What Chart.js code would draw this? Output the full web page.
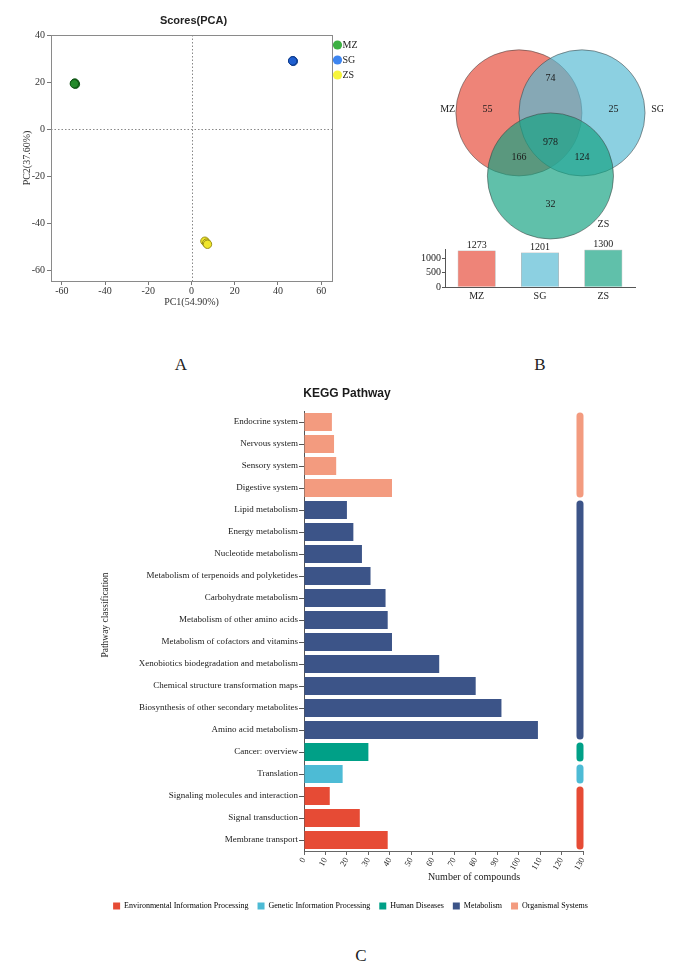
<!DOCTYPE html>
<html><head><meta charset="utf-8">
<script src="https://cdn.jsdelivr.net/npm/chart.js@4.4.1/dist/chart.umd.min.js"></script>
<style>
body{margin:0;background:#fff;}
#wrap{position:relative;width:681px;height:977px;overflow:hidden;background:#fff}
canvas{position:absolute}
.lab{position:absolute;font-family:"Liberation Serif","Times New Roman",serif;font-size:17px;color:#222;transform:translate(-50%,-50%)}
</style></head><body>
<div id="wrap">
<canvas id="pca" width="370" height="312" style="left:0;top:0"></canvas>
<canvas id="venn" width="321" height="245" style="left:360px;top:0"></canvas>
<canvas id="tot" width="321" height="80" style="left:360px;top:235px"></canvas>
<canvas id="kegg" width="681" height="540" style="left:0;top:380px"></canvas>
<div class="lab" style="left:181px;top:365px">A</div>
<div class="lab" style="left:540px;top:365px">B</div>
<div class="lab" style="left:361px;top:956px">C</div>
</div>
<script>
// ---------------- DATA ----------------
// PCA scores (3 replicates per group)
const pcaGroups = ['MZ', 'SG', 'ZS'];
const mzPC1 = [-54.0, -53.7, -54.2];
const mzPC2 = [19.6, 19.1, 19.3];
const sgPC1 = [46.9, 47.1, 46.8];
const sgPC2 = [29.1, 28.8, 29.0];
const zsPC1 = [6.2, 7.0, 7.4];
const zsPC2 = [-47.6, -48.4, -48.9];
const pcaXTicks = [-60, -40, -20, 0, 20, 40, 60];
const pcaYTicks = [40, 20, 0, -20, -40, -60];

// Venn diagram
const vennSets = ['MZ', 'SG', 'ZS'];
const vennRegionNames = ['MZ only', 'SG only', 'ZS only', 'MZ∩SG', 'MZ∩ZS', 'SG∩ZS', 'MZ∩SG∩ZS'];
const vennRegionCounts = [55, 25, 32, 74, 166, 124, 978];
const setTotals = [1273, 1201, 1300];
const totTicks = [0, 500, 1000];

// KEGG pathway classification
const keggPathways = [
  'Endocrine system', 'Nervous system', 'Sensory system', 'Digestive system',
  'Lipid metabolism', 'Energy metabolism', 'Nucleotide metabolism',
  'Metabolism of terpenoids and polyketides', 'Carbohydrate metabolism',
  'Metabolism of other amino acids', 'Metabolism of cofactors and vitamins',
  'Xenobiotics biodegradation and metabolism', 'Chemical structure transformation maps',
  'Biosynthesis of other secondary metabolites', 'Amino acid metabolism',
  'Cancer: overview', 'Translation', 'Signaling molecules and interaction',
  'Signal transduction', 'Membrane transport'
];
const keggCounts = [13, 14, 15, 41, 20, 23, 27, 31, 38, 39, 41, 63, 80, 92, 109, 30, 18, 12, 26, 39];
const keggGroupOf = [
  'Organismal Systems', 'Organismal Systems', 'Organismal Systems', 'Organismal Systems',
  'Metabolism', 'Metabolism', 'Metabolism', 'Metabolism', 'Metabolism', 'Metabolism',
  'Metabolism', 'Metabolism', 'Metabolism', 'Metabolism', 'Metabolism',
  'Human Diseases', 'Genetic Information Processing',
  'Environmental Information Processing', 'Environmental Information Processing',
  'Environmental Information Processing'
];
const keggGroups = ['Environmental Information Processing', 'Genetic Information Processing',
  'Human Diseases', 'Metabolism', 'Organismal Systems'];
const keggXTicks = [0, 10, 20, 30, 40, 50, 60, 70, 80, 90, 100, 110, 120, 130];

// ---------------- STYLES ----------------
const serif = '"Liberation Serif","Times New Roman",serif';
const sans = '"Liberation Sans",Arial,sans-serif';
const groupColor = {
  'Environmental Information Processing': '#E64B35',
  'Genetic Information Processing': '#4DBBD5',
  'Human Diseases': '#00A087',
  'Metabolism': '#3C5488',
  'Organismal Systems': '#F39B7F'
};
const vennFill = ['rgba(230,74,56,0.68)', 'rgba(86,186,211,0.68)', 'rgba(20,162,130,0.68)'];
const pcaFill = ['#238a2a', '#1f5fd0', '#f0e62a'];
const pcaBorder = ['#0f5214', '#0d3a8a', '#9a9018'];
const pcaLegend = ['#3db043', '#3d85f0', '#f7f53c'];
Chart.defaults.animation = false;

function fixed(vals) { return s => { s.ticks = vals.map(v => ({ value: v })); }; }

// ---------------- PCA ----------------
const pcaPlugin = {
  id: 'pcaDeco',
  beforeDatasetsDraw(ch) {
    const { ctx, chartArea: a, scales: { x, y } } = ch;
    ctx.save();
    ctx.strokeStyle = '#888'; ctx.lineWidth = 1; ctx.setLineDash([1.5, 2]);
    const x0 = Math.round(x.getPixelForValue(0)) + 0.5, y0 = Math.round(y.getPixelForValue(0)) + 0.5;
    ctx.beginPath(); ctx.moveTo(x0, a.top); ctx.lineTo(x0, a.bottom); ctx.stroke();
    ctx.beginPath(); ctx.moveTo(a.left, y0); ctx.lineTo(a.right, y0); ctx.stroke();
    ctx.restore();
  },
  afterDraw(ch) {
    const { ctx, chartArea: a } = ch;
    ctx.save();
    ctx.strokeStyle = '#8a8a8a'; ctx.lineWidth = 1;
    ctx.strokeRect(Math.round(a.left) + 0.5, Math.round(a.top) + 0.5, Math.round(a.right - a.left), Math.round(a.bottom - a.top));
    ctx.fillStyle = '#222'; ctx.font = 'bold 11px ' + sans; ctx.textAlign = 'center'; ctx.textBaseline = 'middle';
    ctx.fillText('Scores(PCA)', (a.left + a.right) / 2 + 2, 21);
    ctx.font = '10px ' + serif; ctx.textAlign = 'left';
    pcaGroups.forEach((g, i) => {
      const cy = 45 + i * 15, cx = a.right + 5.5;
      ctx.beginPath(); ctx.arc(cx, cy, 4.6, 0, Math.PI * 2); ctx.fillStyle = pcaLegend[i]; ctx.fill();
      ctx.fillStyle = '#222'; ctx.fillText(g, cx + 5, cy + 0.5);
    });
    ctx.restore();
  }
};
const pcaSeries = [[mzPC1, mzPC2], [sgPC1, sgPC2], [zsPC1, zsPC2]];
new Chart(document.getElementById('pca'), {
  type: 'scatter',
  data: {
    datasets: pcaGroups.map((g, i) => ({
      label: g,
      data: pcaSeries[i][0].map((v, k) => ({ x: v, y: pcaSeries[i][1][k] })),
      backgroundColor: pcaFill[i], borderColor: pcaBorder[i], borderWidth: 1, pointRadius: 4.2
    }))
  },
  options: {
    responsive: false, devicePixelRatio: 1,
    layout: { padding: { top: 35, right: 38, left: 0, bottom: 0 } },
    plugins: { legend: { display: false }, tooltip: { enabled: false } },
    scales: {
      x: {
        type: 'linear', min: -65, max: 65, afterBuildTicks: fixed(pcaXTicks), afterFit: s => { s.height = 31; },
        grid: { display: true, drawOnChartArea: false, drawTicks: true, tickLength: 4, color: '#777' },
        border: { display: true, color: '#8a8a8a' },
        ticks: { font: { family: serif, size: 10 }, color: '#333', padding: 0, maxRotation: 0 },
        title: { display: true, text: 'PC1(54.90%)', font: { family: serif, size: 10 }, color: '#333', padding: { top: 0, bottom: 4 } }
      },
      y: {
        type: 'linear', min: -64.5, max: 40, afterBuildTicks: fixed(pcaYTicks), afterFit: s => { s.width = 51; },
        grid: { display: true, drawOnChartArea: false, drawTicks: true, tickLength: 4, color: '#777' },
        border: { display: true, color: '#8a8a8a' },
        ticks: { font: { family: serif, size: 10 }, color: '#333', padding: 2 },
        title: { display: true, text: 'PC2(37.60%)', font: { family: serif, size: 10 }, color: '#333', padding: { top: 21, bottom: 0 } }
      }
    }
  },
  plugins: [pcaPlugin]
});

// ---------------- VENN ----------------
// layout of a symmetric 3-set Venn (unit = circle radius)
const vennCentres = [[-0.5, 0], [0.5, 0], [0, -1]];
const vennRegionAnchors = [[-1.0, 0.05], [1.0, 0.05], [0, -1.45], [0, 0.55], [-0.5, -0.7], [0.5, -0.7], [0, -0.46]];
const vennSetAnchors = [[-1.63, 0.05], [1.7, 0.05], [0.84, -1.77]];
const vennPlugin = {
  id: 'vennText',
  afterDatasetsDraw(ch) {
    const { ctx, scales: { x, y } } = ch;
    ctx.save();
    ctx.fillStyle = '#1a1a1a'; ctx.font = '10px ' + serif; ctx.textAlign = 'center'; ctx.textBaseline = 'middle';
    vennRegionCounts.forEach((c, i) => {
      ctx.fillText(String(c), x.getPixelForValue(vennRegionAnchors[i][0]), y.getPixelForValue(vennRegionAnchors[i][1]));
    });
    vennSets.forEach((s, i) => {
      ctx.fillText(s, x.getPixelForValue(vennSetAnchors[i][0]), y.getPixelForValue(vennSetAnchors[i][1]));
    });
    ctx.restore();
  }
};
new Chart(document.getElementById('venn'), {
  type: 'scatter',
  data: {
    datasets: [{
      label: 'sets',
      data: vennCentres.map(c => ({ x: c[0], y: c[1] })),
      backgroundColor: vennFill, borderColor: 'rgba(60,60,60,0.75)', borderWidth: 0.7,
      pointRadius: c => { const s = c.chart.scales.x; return s.getPixelForValue(1) - s.getPixelForValue(0); },
      pointHoverRadius: c => { const s = c.chart.scales.x; return s.getPixelForValue(1) - s.getPixelForValue(0); }
    }]
  },
  options: {
    responsive: false, devicePixelRatio: 1,
    layout: { padding: 0 },
    plugins: { legend: { display: false }, tooltip: { enabled: false } },
    scales: {
      x: { type: 'linear', display: false, min: -3.02, max: 2.07 },
      y: { type: 'linear', display: false, min: -2.095, max: 1.79 }
    }
  },
  plugins: [vennPlugin]
});

// ---------------- SET TOTALS ----------------
const totPlugin = {
  id: 'totLabels',
  afterDatasetsDraw(ch) {
    const { ctx } = ch;
    const meta = ch.getDatasetMeta(0);
    ctx.save();
    ctx.fillStyle = '#1a1a1a'; ctx.font = '10px ' + serif; ctx.textAlign = 'center'; ctx.textBaseline = 'bottom';
    meta.data.forEach((b, i) => ctx.fillText(String(setTotals[i]), b.x, b.y));
    ctx.restore();
  }
};
new Chart(document.getElementById('tot'), {
  type: 'bar',
  data: {
    labels: vennSets,
    datasets: [{ data: setTotals, backgroundColor: vennFill, borderColor: 'rgba(90,90,90,0.6)', borderWidth: 0.6, barPercentage: 0.6, categoryPercentage: 1 }]
  },
  options: {
    responsive: false, devicePixelRatio: 1,
    layout: { padding: { top: 14.6, right: 46, left: 0, bottom: 0 } },
    plugins: { legend: { display: false }, tooltip: { enabled: false } },
    scales: {
      x: {
        afterFit: s => { s.height = 27.7; },
        grid: { display: false, drawTicks: false }, border: { display: true, color: '#555' },
        ticks: { font: { family: serif, size: 10 }, color: '#222', padding: 3 }
      },
      y: {
        min: 0, max: 1300, afterBuildTicks: fixed(totTicks), afterFit: s => { s.width = 85; },
        grid: { display: true, drawOnChartArea: false, tickLength: 3, color: '#555' },
        border: { display: true, color: '#555' },
        ticks: { font: { family: serif, size: 10 }, color: '#222', padding: 1, callback: v => String(v) }
      }
    }
  },
  plugins: [totPlugin]
});

// ---------------- KEGG ----------------
const keggPlugin = {
  id: 'keggDeco',
  afterDatasetsDraw(ch) {
    const { ctx, chartArea: a, scales: { x, y } } = ch;
    ctx.save();
    // group strips
    const half = (y.getPixelForValue(1) - y.getPixelForValue(0)) / 2;
    let start = 0;
    for (let i = 1; i <= keggGroupOf.length; i++) {
      if (i === keggGroupOf.length || keggGroupOf[i] !== keggGroupOf[start]) {
        const top = y.getPixelForValue(start) - half + 1.5;
        const bot = y.getPixelForValue(i - 1) + half - 1.5;
        const cx = x.getPixelForValue(128.6);
        ctx.fillStyle = groupColor[keggGroupOf[start]];
        ctx.beginPath();
        ctx.roundRect(cx - 3.5, top, 7, bot - top, 3.5);
        ctx.fill();
        start = i;
      }
    }
    // titles
    ctx.fillStyle = '#1a1a1a'; ctx.textAlign = 'center'; ctx.textBaseline = 'middle';
    ctx.font = 'bold 12px ' + sans;
    ctx.fillText('KEGG Pathway', 347, 14);
    ctx.font = '10px ' + serif;
    ctx.fillText('Number of compounds', 474, 497);
    ctx.translate(105, 235); ctx.rotate(-Math.PI / 2);
    ctx.font = '9.5px ' + serif;
    ctx.fillText('Pathway classification', 0, 0);
    ctx.restore();
  }
};
new Chart(document.getElementById('kegg'), {
  type: 'bar',
  data: {
    labels: keggPathways,
    datasets: [{
      data: keggCounts, yAxisID: 'y', xAxisID: 'x',
      backgroundColor: keggGroupOf.map(g => groupColor[g]),
      barPercentage: 0.82, categoryPercentage: 1, borderWidth: 0
    }]
  },
  options: {
    indexAxis: 'y', responsive: false, devicePixelRatio: 1,
    layout: { padding: { top: 31, left: 20, right: 0, bottom: 0 } },
    plugins: {
      tooltip: { enabled: false },
      legend: {
        display: true, position: 'bottom',
        labels: {
          boxWidth: 7, boxHeight: 7, padding: 9, color: '#333', font: { family: serif, size: 8 },
          generateLabels: () => keggGroups.map(g => ({ text: g, fillStyle: groupColor[g], strokeStyle: groupColor[g], lineWidth: 0, hidden: false, datasetIndex: 0 }))
        }
      }
    },
    scales: {
      x: {
        type: 'linear', min: 0, max: 130, afterBuildTicks: fixed(keggXTicks), afterFit: s => { s.height = 42; },
        grid: { display: true, drawOnChartArea: false, tickLength: 4, color: '#666' },
        border: { display: true, color: '#666' },
        ticks: { minRotation: 60, maxRotation: 60, font: { family: serif, size: 8.5 }, color: '#222', padding: 1 }
      },
      y: {
        type: 'category', position: 'left', afterFit: s => { s.width = 284; },
        grid: { display: true, drawOnChartArea: false, offset: false, tickLength: 5, color: '#555' },
        border: { display: true, color: '#555' },
        ticks: { font: { family: serif, size: 9 }, color: '#1a1a1a', padding: 1 }
      },
      y2: {
        type: 'category', position: 'right', afterFit: s => { s.width = 98; },
        grid: { display: false }, border: { display: false }, ticks: { display: false }
      }
    }
  },
  plugins: [keggPlugin]
});
</script>
</body></html>
